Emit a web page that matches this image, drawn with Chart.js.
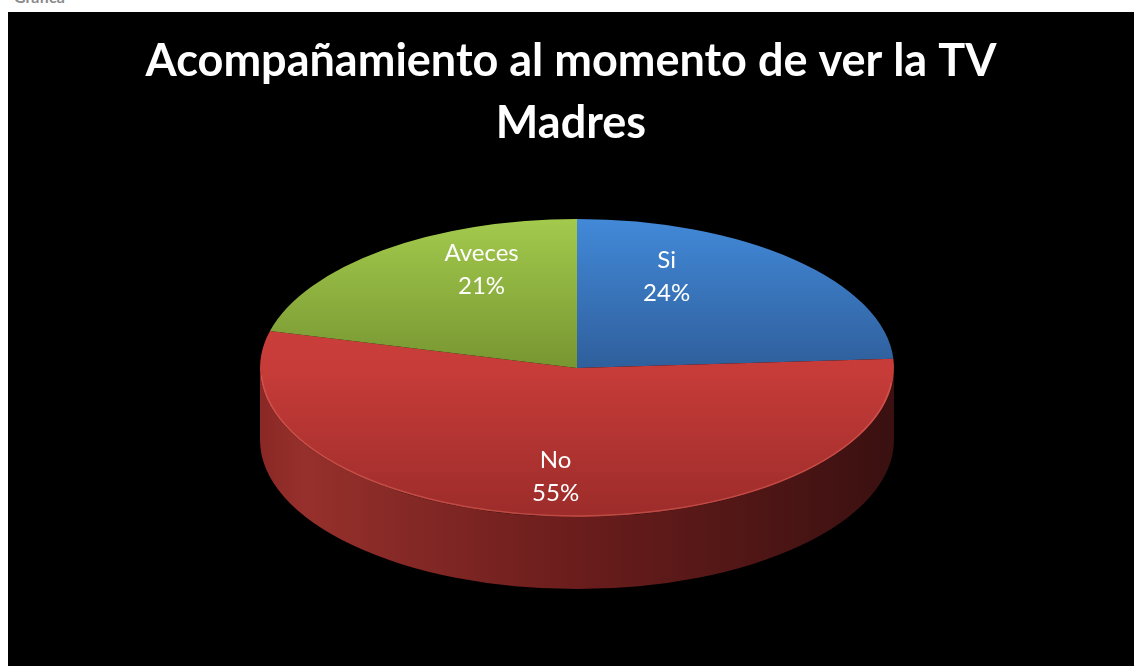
<!DOCTYPE html>
<html>
<head>
<meta charset="utf-8">
<script src="https://cdn.jsdelivr.net/npm/chart.js@4"></script>
<style>
  body { margin: 0; background: #fff; width: 1134px; height: 666px; overflow: hidden; position: relative; }
  #cut { position: absolute; left: 14px; top: -13px; font: bold 16px Lato, sans-serif; color: #8a8a8a; }
  #box { position: absolute; left: 8px; top: 12px; width: 1126px; height: 654px; background: #000; }
</style>
</head>
<body>
<div id="cut">Gráfica</div>
<div id="box"><canvas id="pie" width="1126" height="654"></canvas></div>
<script>
// chart data
const labels = ['Si', 'No', 'Aveces'];
const values = [24, 55, 21];
const titleLines = ['Acompañamiento al momento de ver la TV', 'Madres'];

// colours: [top, middle, bottom] of each slice face
const faceColors = [
    ['#4289d8', '#2f5f9c', '#2b5890'],
    ['#d0403d', '#c73c39', '#9c2c2a'],
    ['#a3ca4d', '#779631', '#6f8c2c']
];

// how the flat pie gets squashed into a 3D disc (canvas px)
const CX = 569, CY = 356, RX = 317, RY = 149, DEPTH = 72;

function faceGradient(ctx) {
    const chart = ctx.chart;
    const area = chart.chartArea;
    const c = faceColors[ctx.dataIndex];
    if (!area) return c[1];
    const r = Math.min(area.right - area.left, area.bottom - area.top) / 2;
    const cy = (area.top + area.bottom) / 2;
    const g = chart.ctx.createLinearGradient(0, cy - r, 0, cy + r);
    g.addColorStop(0, c[0]);
    g.addColorStop(0.5, c[1]);
    g.addColorStop(1, c[2]);
    return g;
}

const disc3d = {
    id: 'disc3d',
    beforeDatasetsDraw(chart) {
        const ctx = chart.ctx;
        const arcs = chart.getDatasetMeta(0).data;
        // side wall, only the front half (angles 0..PI) is seen
        arcs.forEach((arc, i) => {
            let a0 = arc.startAngle, a1 = arc.endAngle;
            while (a0 < 0) { a0 += Math.PI * 2; a1 += Math.PI * 2; }
            const s = Math.max(a0, 0), e = Math.min(a1, Math.PI);
            const s2 = Math.max(a0, Math.PI * 2), e2 = Math.min(a1, Math.PI * 3);
            [[s, e], [s2 - Math.PI * 2, e2 - Math.PI * 2]].forEach(([from, to]) => {
                if (to <= from) return;
                const g = ctx.createLinearGradient(CX - RX, 0, CX + RX, 0);
                g.addColorStop(0, '#8a2825');
                g.addColorStop(0.07, '#96302c');
                g.addColorStop(0.5, '#6a1d1c');
                g.addColorStop(1, '#3a1010');
                ctx.save();
                ctx.beginPath();
                ctx.ellipse(CX, CY, RX, RY, 0, from, to, false);
                ctx.ellipse(CX, CY + DEPTH, RX, RY, 0, to, from, true);
                ctx.closePath();
                ctx.fillStyle = g;
                ctx.fill();
                ctx.restore();
            });
        });
        const a = arcs[0];
        ctx.save();
        ctx.translate(CX, CY);
        ctx.scale(RX / a.outerRadius, RY / a.outerRadius);
        ctx.translate(-a.x, -a.y);
    },
    afterDatasetsDraw(chart) {
        const ctx = chart.ctx;
        ctx.restore();
        // light rim along the front edge
        ctx.save();
        ctx.beginPath();
        ctx.ellipse(CX, CY, RX - 1, RY - 1, 0, 0.1, Math.PI - 0.05);
        ctx.strokeStyle = 'rgba(230,110,100,0.45)';
        ctx.lineWidth = 1.5;
        ctx.stroke();
        ctx.restore();
        // data labels
        const arcs = chart.getDatasetMeta(0).data;
        const total = values.reduce((p, v) => p + v, 0);
        ctx.save();
        ctx.fillStyle = '#fff';
        ctx.font = '24px Lato, sans-serif';
        ctx.textAlign = 'center';
        ctx.textBaseline = 'middle';
        arcs.forEach((arc, i) => {
            const mid = (arc.startAngle + arc.endAngle) / 2;
            const x = CX + 0.45 * RX * Math.cos(mid) - 8;
            const y = CY + 0.78 * RY * Math.sin(mid) - 7;
            ctx.fillText(labels[i], x, y - 16);
            ctx.fillText(Math.round(values[i] / total * 100) + '%', x, y + 17);
        });
        ctx.restore();
    }
};

new Chart(document.getElementById('pie'), {
    type: 'pie',
    data: {
        labels: labels,
        datasets: [{
            data: values,
            backgroundColor: faceGradient,
            borderWidth: 0,
            clip: false
        }]
    },
    options: {
        responsive: false,
        animation: false,
        layout: { padding: { top: 0, bottom: 20 } },
        plugins: {
            legend: { display: false },
            tooltip: { enabled: false },
            title: {
                display: true,
                text: titleLines,
                color: '#fff',
                font: { family: 'Lato', size: 45, weight: 'bold', lineHeight: 1.38 },
                padding: { top: 18, bottom: 10 }
            }
        }
    },
    plugins: [disc3d]
});
</script>
</body>
</html>
